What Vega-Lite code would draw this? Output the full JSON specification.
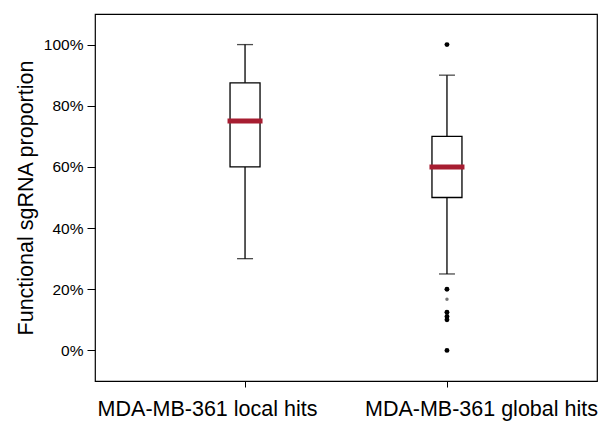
{
  "$schema": "https://vega.github.io/schema/vega-lite/v6.json",
  "width": 502,
  "height": 367,
  "autosize": "none",
  "padding": {"left": 95, "top": 14, "right": 3, "bottom": 40},
  "background": "white",
  "config": {
    "font": "Liberation Sans",
    "view": {"stroke": "black", "strokeWidth": 1.2},
    "axis": {"grid": false, "domain": false, "tickColor": "black", "labelColor": "black", "titleColor": "black", "labelFont": "Liberation Sans", "titleFont": "Liberation Sans", "titleFontWeight": "normal"}
  },
  "datasets": {
    "stats": [
      {"group": "MDA-MB-361 local hits", "lower": 0.30, "q1": 0.60, "median": 0.75, "q3": 0.875, "upper": 1.00},
      {"group": "MDA-MB-361 global hits", "lower": 0.25, "q1": 0.50, "median": 0.60, "q3": 0.70, "upper": 0.90}
    ],
    "outliers": [
      {"group": "MDA-MB-361 global hits", "value": 1.00, "kind": "dark"},
      {"group": "MDA-MB-361 global hits", "value": 0.20, "kind": "dark"},
      {"group": "MDA-MB-361 global hits", "value": 0.167, "kind": "light"},
      {"group": "MDA-MB-361 global hits", "value": 0.125, "kind": "dark"},
      {"group": "MDA-MB-361 global hits", "value": 0.111, "kind": "dark"},
      {"group": "MDA-MB-361 global hits", "value": 0.10, "kind": "dark"},
      {"group": "MDA-MB-361 global hits", "value": 0.00, "kind": "dark"}
    ]
  },
  "encoding": {
    "x": {
      "field": "group", "type": "nominal",
      "sort": ["MDA-MB-361 local hits", "MDA-MB-361 global hits"],
      "scale": {"type": "point", "padding": 0.743},
      "axis": {"title": null, "labelAngle": 0, "labelFontSize": 21.5, "labelLimit": 400, "tickSize": 6, "labelPadding": 11,
        "labelOffset": {"expr": "datum.value === 'MDA-MB-361 local hits' ? -38 : 34"}}
    }
  },
  "layer": [
    {
      "data": {"name": "stats"},
      "mark": {"type": "rule", "color": "black", "strokeWidth": 1.3},
      "encoding": {
        "y": {
          "field": "lower", "type": "quantitative",
          "scale": {"domain": [-0.1, 1.1], "nice": false, "zero": false},
          "axis": {"title": "Functional sgRNA proportion", "titleFontSize": 21.5, "titlePadding": 6, "values": [0, 0.2, 0.4, 0.6, 0.8, 1.0], "format": ".0%", "labelFontSize": 15.5, "tickSize": 8, "labelPadding": 4}
        },
        "y2": {"field": "upper"}
      }
    },
    {
      "data": {"name": "stats"},
      "mark": {"type": "tick", "color": "black", "size": 16, "thickness": 1.3, "orient": "horizontal"},
      "encoding": {"y": {"field": "lower", "type": "quantitative"}}
    },
    {
      "data": {"name": "stats"},
      "mark": {"type": "tick", "color": "black", "size": 16, "thickness": 1.3, "orient": "horizontal"},
      "encoding": {"y": {"field": "upper", "type": "quantitative"}}
    },
    {
      "data": {"name": "stats"},
      "mark": {"type": "bar", "size": 30, "fill": "white", "stroke": "black", "strokeWidth": 1.3},
      "encoding": {
        "y": {"field": "q1", "type": "quantitative"},
        "y2": {"field": "q3"}
      }
    },
    {
      "data": {"name": "stats"},
      "mark": {"type": "tick", "color": "#a71d31", "size": 35, "thickness": 5, "orient": "horizontal", "opacity": 1},
      "encoding": {"y": {"field": "median", "type": "quantitative"}}
    },
    {
      "data": {"name": "outliers"},
      "mark": {"type": "circle", "opacity": 1},
      "encoding": {
        "y": {"field": "value", "type": "quantitative"},
        "color": {"field": "kind", "type": "nominal", "scale": {"domain": ["dark", "light"], "range": ["#000000", "#777777"]}, "legend": null},
        "size": {"field": "kind", "type": "nominal", "scale": {"domain": ["dark", "light"], "range": [24, 12]}, "legend": null}
      }
    }
  ]
}
